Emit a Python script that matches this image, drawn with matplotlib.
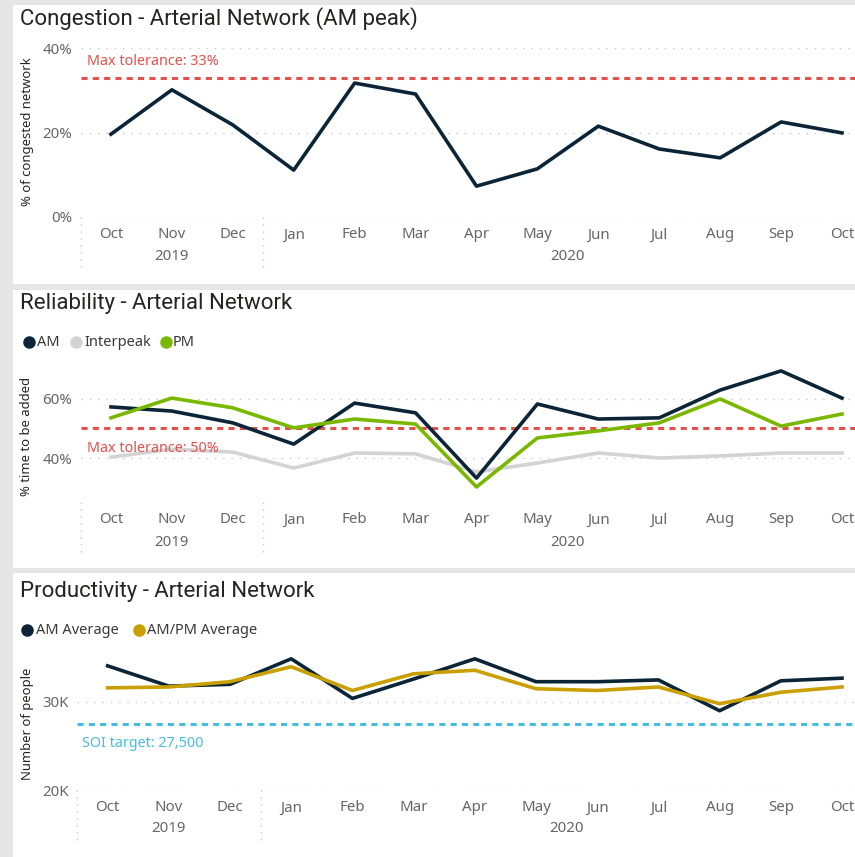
import matplotlib.pyplot as plt
import matplotlib.transforms as mtransforms
from matplotlib.patches import Rectangle
from matplotlib.lines import Line2D

W, H = 855, 857

months = ['Oct', 'Nov', 'Dec', 'Jan', 'Feb', 'Mar', 'Apr', 'May', 'Jun', 'Jul', 'Aug', 'Sep', 'Oct']
years = ['2019', '2020']
year_start = [0, 3]  # index of first month of each year

# congestion (AM peak), % of congested network
congestion_am = [19.6, 30.1, 21.8, 11.1, 31.7, 29.1, 7.3, 11.4, 21.5, 16.1, 14.0, 22.5, 19.9]
congestion_tol = 33

# reliability, % time to be added
rel_am = [57.3, 55.9, 51.9, 44.7, 58.6, 55.3, 33.2, 58.3, 53.2, 53.6, 63.0, 69.5, 60.3]
rel_interpeak = [40.3, 43.0, 42.0, 36.6, 41.7, 41.4, 35.3, 38.3, 41.7, 40.0, 40.7, 41.7, 41.7]
rel_pm = [53.6, 60.3, 57.0, 50.2, 53.2, 51.5, 30.2, 46.8, 49.2, 51.9, 60.0, 50.8, 54.9]
rel_tol = 50

# productivity, number of people
prod_am = [34100, 31800, 32000, 34900, 30400, 32600, 34900, 32300, 32300, 32500, 29000, 32400, 32700]
prod_ampm = [31600, 31700, 32300, 34000, 31300, 33200, 33600, 31500, 31300, 31700, 29800, 31100, 31700]
soi_target = 27500

NAVY = '#0b2537'
GREEN = '#7ab800'
LGRAY = '#d3d3d3'
GOLD = '#c9a000'
RED = '#e5504b'
CYAN = '#45bde0'
TXT = '#252423'
TICK = '#666666'
GRID = '#c8c8c8'

TITLE_FONT = 'Roboto'
BODY_FONT = 'Noto Sans'
LW = 2.6


def fx(x):
    return x / W


def fy(y):
    return 1 - y / H


fig = plt.figure(figsize=(W / 100, H / 100), dpi=100)
fig.patch.set_facecolor('#e6e6e6')

# white card backgrounds (x0, y0, x1, y1 in px)
for x0, y0, x1, y1 in [(13, 5, 855, 284), (13, 290, 855, 568), (13, 573, 855, 857)]:
    fig.patches.append(Rectangle((fx(x0), fy(y1)), fx(x1 - x0), (y1 - y0) / H,
                                 transform=fig.transFigure, facecolor='white',
                                 edgecolor='none', zorder=-5))


def make_axes(left, top, bottom, ylim, yticks, yticklabels):
    ax = fig.add_axes([fx(left), fy(bottom), fx(855 - left), (bottom - top) / H])
    ax.set_facecolor('none')
    ax.set_zorder(2)
    ax.set_xlim(-0.5, 12 + 13 / 61)
    ax.set_ylim(*ylim)
    for s in ax.spines.values():
        s.set_visible(False)
    ax.set_yticks(yticks)
    ax.set_yticklabels(yticklabels, color=TICK, fontsize=10.8, family=BODY_FONT)
    ax.set_xticks(range(len(months)))
    ax.set_xticklabels(months, color=TICK, fontsize=10.8, family=BODY_FONT)
    ax.tick_params(length=0, axis='y', pad=6)
    ax.tick_params(length=0, axis='x', pad=7.5)
    ax.grid(axis='y', color=GRID, linestyle=(0, (1, 5)), linewidth=1)
    ax.set_axisbelow(True)
    return ax


def year_axis(ax, y_year, y_sep_end):
    bt = mtransforms.blended_transform_factory(ax.transData, fig.transFigure)
    y_top = ax.get_position().y0
    bounds = year_start + [len(months)]
    for i, yr in enumerate(years):
        c = (bounds[i] + bounds[i + 1] - 1) / 2
        ax.text(c, fy(y_year), yr, transform=bt, ha='center', va='center',
                color=TICK, fontsize=10.8, family=BODY_FONT)
        ax.plot([bounds[i] - 0.5] * 2, [y_top, fy(y_sep_end)], transform=bt,
                color=GRID, linestyle=(0, (1, 4)), linewidth=1, clip_on=False)


def title(y, text):
    fig.text(fx(20), fy(y), text, ha='left', va='center', color=TXT,
             fontsize=16, family=TITLE_FONT)


def ylabel(x, y, text):
    fig.text(fx(x), fy(y), text, rotation=90, ha='center', va='center',
             color=TXT, fontsize=9.4, family=BODY_FONT, fontweight='bold')


def legend(y, items):
    for mx, tx, color, label in items:
        fig.lines.append(Line2D([fx(mx)], [fy(y)], marker='o', markersize=8,
                                color=color, linestyle='none', transform=fig.transFigure))
        fig.text(fx(tx), fy(y), label, ha='left', va='center', color='#3a3a3a',
                 fontsize=10.5, family=BODY_FONT)


x = list(range(len(months)))
dash = (0, (2.0, 1.7))

# ---- Congestion
title(19, 'Congestion - Arterial Network (AM peak)')
ax1 = make_axes(80.5, 48, 217, (0, 40), [0, 20, 40], ['0%', '20%', '40%'])
ax1.axhline(congestion_tol, color=RED, linestyle=dash, linewidth=2.2, zorder=1)
ax1.plot(x, congestion_am, color=NAVY, linewidth=LW, zorder=3, solid_joinstyle='round')
ax1.text(0.102, congestion_tol + 3.7, 'Max tolerance: 33%',
         transform=mtransforms.blended_transform_factory(fig.transFigure, ax1.transData),
         color=RED, fontsize=10.3, family=BODY_FONT, va='center', ha='left')
year_axis(ax1, 256, 268)
ylabel(27, 132, '% of congested network')

# ---- Reliability
title(304, 'Reliability - Arterial Network')
legend(342, [(29, 37, NAVY, 'AM'), (76, 84, LGRAY, 'Interpeak'), (166, 173, GREEN, 'PM')])
ax2 = make_axes(80.5, 365, 502, (25.1, 71.5), [40, 60], ['40%', '60%'])
ax2.axhline(rel_tol, color=RED, linestyle=dash, linewidth=2.2, zorder=1)
ax2.plot(x, rel_interpeak, color=LGRAY, linewidth=LW, zorder=2, solid_joinstyle='round')
ax2.plot(x, rel_am, color=NAVY, linewidth=LW, zorder=3, solid_joinstyle='round')
ax2.plot(x, rel_pm, color=GREEN, linewidth=LW, zorder=4, solid_joinstyle='round')
ax2.text(0.102, rel_tol - 6.9, 'Max tolerance: 50%',
         transform=mtransforms.blended_transform_factory(fig.transFigure, ax2.transData),
         color=RED, fontsize=10.3, family=BODY_FONT, va='center', ha='left', zorder=5)
year_axis(ax2, 542, 553)
ylabel(27, 436, '% time to be added')

# ---- Productivity
title(591, 'Productivity - Arterial Network')
legend(630, [(27, 36, NAVY, 'AM Average'), (139, 147, GOLD, 'AM/PM Average')])
ax3 = make_axes(77, 650, 790, (20000, 35900), [20000, 30000], ['20K', '30K'])
ax3.set_xlim(-0.5, 12 + 13 / 61.25)
ax3.axhline(soi_target, color=CYAN, linestyle=dash, linewidth=2.2, zorder=1)
ax3.plot(x, prod_am, color=NAVY, linewidth=LW, zorder=3, solid_joinstyle='round')
ax3.plot(x, prod_ampm, color=GOLD, linewidth=LW, zorder=4, solid_joinstyle='round')
ax3.text(0.096, soi_target - 2200, 'SOI target: 27,500',
         transform=mtransforms.blended_transform_factory(fig.transFigure, ax3.transData),
         color=CYAN, fontsize=10.3, family=BODY_FONT, va='center', ha='left')
year_axis(ax3, 829, 842)
ylabel(27, 724, 'Number of people')

fig.savefig('out.png', dpi=100, facecolor=fig.get_facecolor())
